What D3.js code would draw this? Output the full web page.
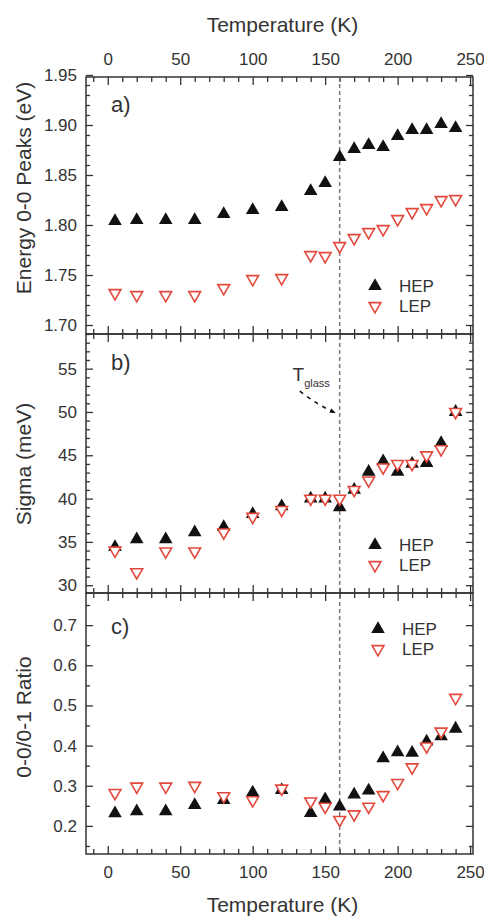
<!DOCTYPE html>
<html>
<head>
<meta charset="utf-8">
<script src="https://cdn.jsdelivr.net/npm/d3@7"></script>
<style>
  body { margin: 0; background: #fff; }
  text { font-family: "Liberation Sans", Arial, sans-serif; fill: #333; }
</style>
</head>
<body>
<div id="chart"></div>
<script>
// Temperatures (K)
var temps = [5, 20, 40, 60, 80, 100, 120, 140, 150, 160, 170, 180, 190, 200, 210, 220, 230, 240];

// a) Energy 0-0 peaks (eV)
var energyHEP = [1.804, 1.805, 1.805, 1.805, 1.811, 1.815, 1.818, 1.834, 1.842, 1.868, 1.876, 1.880, 1.878, 1.889, 1.895, 1.895, 1.901, 1.897];
var energyLEP = [1.732, 1.730, 1.730, 1.730, 1.737, 1.746, 1.747, 1.770, 1.769, 1.779, 1.787, 1.793, 1.796, 1.806, 1.813, 1.817, 1.825, 1.826];

// b) Sigma (meV)
var sigmaHEP = [34.4, 35.3, 35.3, 36.1, 36.7, 38.2, 39.1, 40.0, 40.0, 39.0, 41.0, 43.1, 44.3, 43.1, 44.0, 44.1, 46.4, 50.0];
var sigmaLEP = [34.0, 31.5, 33.9, 33.9, 36.1, 37.9, 38.7, 40.0, 40.0, 40.0, 41.0, 42.1, 43.6, 44.0, 44.0, 45.0, 45.7, 50.0];

// c) 0-0/0-1 ratio
var ratioHEP = [0.231, 0.236, 0.236, 0.252, 0.264, 0.283, 0.289, 0.232, 0.266, 0.248, 0.278, 0.288, 0.368, 0.383, 0.382, 0.410, 0.423, 0.442];
var ratioLEP = [0.282, 0.298, 0.298, 0.300, 0.274, 0.264, 0.293, 0.261, 0.248, 0.215, 0.229, 0.248, 0.277, 0.307, 0.346, 0.398, 0.435, 0.519];

var xTicks = [0, 50, 100, 150, 200, 250];
var tGlass = 160;

var width = 484, height = 916;
var left = 86, right = 473;
var panelTops = [77, 334, 593, 854];

var svg = d3.select("#chart").append("svg")
    .attr("width", width)
    .attr("height", height);

var x = d3.scaleLinear().domain([-15, 252]).range([left, right]);
var xMinor = d3.range(-10, 251, 10).filter(function (v) { return v % 50 !== 0; });

var red = "#e2483c";
var upTri = d3.symbol().type(d3.symbolTriangle).size(80);
var downTri = d3.symbol().type(d3.symbolTriangle).size(60);

var panels = [
    { name: "a)", title: "Energy 0-0 Peaks (eV)", titleY: 188, domain: [1.691, 1.948],
      major: d3.range(1.70, 1.951, 0.05), minorStep: 0.01, fmt: d3.format(".2f"),
      hep: energyHEP, lep: energyLEP, labelY: 112,
      legend: { x: 375, y1: 286, y2: 306, tx: 399 } },
    { name: "b)", title: "Sigma (meV)", titleY: 464, domain: [29.1, 59.0],
      major: d3.range(30, 56, 5), minorStep: 1, fmt: d3.format("d"),
      hep: sigmaHEP, lep: sigmaLEP, labelY: 370,
      legend: { x: 375, y1: 545, y2: 565, tx: 399 } },
    { name: "c)", title: "0-0/0-1 Ratio", titleY: 717, domain: [0.13, 0.78],
      major: d3.range(0.2, 0.71, 0.1), minorStep: 0.05, fmt: d3.format(".1f"),
      hep: ratioHEP, lep: ratioLEP, labelY: 634,
      legend: { x: 378, y1: 629, y2: 649, tx: 402 } }
];

function styleAxis(g) {
    g.select(".domain").remove();
    g.selectAll(".tick line").attr("stroke", "#333").attr("stroke-width", 1.3);
    g.selectAll(".tick text").style("font-size", "17px").attr("fill", "#3a3a3a")
        .style("font-family", "'Liberation Sans', Arial, sans-serif");
}

panels.forEach(function (p, i) {
    var top = panelTops[i], bottom = panelTops[i + 1];
    var y = d3.scaleLinear().domain(p.domain).range([bottom, top]);
    p.y = y;

    // minor tick values that are not on a major tick
    var minorVals = [];
    var start = Math.ceil(p.domain[0] / p.minorStep - 1e-6);
    for (var k = start; k * p.minorStep <= p.domain[1] + 1e-9; k++) {
        var v = +(k * p.minorStep).toFixed(4);
        var isMajor = p.major.some(function (m) { return Math.abs(m - v) < 1e-6; });
        if (!isMajor) minorVals.push(v);
    }

    // y axes left and right (ticks inward)
    svg.append("g").attr("transform", "translate(" + left + ",0)")
        .call(d3.axisLeft(y).tickValues(p.major).tickFormat(p.fmt).tickSize(-7).tickPadding(9))
        .call(styleAxis);
    svg.append("g").attr("transform", "translate(" + left + ",0)")
        .call(d3.axisLeft(y).tickValues(minorVals).tickFormat("").tickSize(-4))
        .call(styleAxis);
    svg.append("g").attr("transform", "translate(" + right + ",0)")
        .call(d3.axisRight(y).tickValues(p.major).tickFormat("").tickSize(-7))
        .call(styleAxis);
    svg.append("g").attr("transform", "translate(" + right + ",0)")
        .call(d3.axisRight(y).tickValues(minorVals).tickFormat("").tickSize(-4))
        .call(styleAxis);

    // x axes top and bottom (ticks inward)
    svg.append("g").attr("transform", "translate(0," + top + ")")
        .call(d3.axisTop(x).tickValues(xTicks).tickFormat(i === 0 ? d3.format("d") : "").tickSize(-8).tickPadding(12))
        .call(styleAxis);
    svg.append("g").attr("transform", "translate(0," + top + ")")
        .call(d3.axisTop(x).tickValues(xMinor).tickFormat("").tickSize(-5))
        .call(styleAxis);
    svg.append("g").attr("transform", "translate(0," + bottom + ")")
        .call(d3.axisBottom(x).tickValues(xTicks).tickFormat(i === 2 ? d3.format("d") : "").tickSize(-8).tickPadding(12))
        .call(styleAxis);
    svg.append("g").attr("transform", "translate(0," + bottom + ")")
        .call(d3.axisBottom(x).tickValues(xMinor).tickFormat("").tickSize(-5))
        .call(styleAxis);

    // frame
    svg.append("rect")
        .attr("x", left).attr("y", top)
        .attr("width", right - left).attr("height", bottom - top)
        .attr("fill", "none").attr("stroke", "#333").attr("stroke-width", 1.5);

    // y title
    svg.append("text")
        .attr("transform", "translate(31," + p.titleY + ") rotate(-90)")
        .attr("text-anchor", "middle")
        .style("font-size", "21px")
        .text(p.title);

    // panel label
    svg.append("text")
        .attr("x", 111).attr("y", p.labelY)
        .style("font-size", "22px")
        .text(p.name);
});

// T_glass dashed line
svg.append("line")
    .attr("x1", x(tGlass)).attr("x2", x(tGlass))
    .attr("y1", panelTops[0]).attr("y2", panelTops[3])
    .attr("stroke", "#777").attr("stroke-width", 1.5)
    .attr("stroke-dasharray", "4,3");

// markers
panels.forEach(function (p) {
    var y = p.y;
    svg.append("g").selectAll("path")
        .data(p.hep)
        .join("path")
        .attr("d", upTri)
        .attr("transform", function (d, j) { return "translate(" + x(temps[j]) + "," + y(d) + ")"; })
        .attr("fill", "#111");
    svg.append("g").selectAll("path")
        .data(p.lep)
        .join("path")
        .attr("d", downTri)
        .attr("transform", function (d, j) { return "translate(" + x(temps[j]) + "," + y(d) + ") rotate(180)"; })
        .attr("fill", "#fff").attr("stroke", red).attr("stroke-width", 1.6);

    // legend
    var lg = p.legend;
    svg.append("path").attr("d", upTri)
        .attr("transform", "translate(" + lg.x + "," + lg.y1 + ")")
        .attr("fill", "#111");
    svg.append("path").attr("d", downTri)
        .attr("transform", "translate(" + lg.x + "," + lg.y2 + ") rotate(180)")
        .attr("fill", "#fff").attr("stroke", red).attr("stroke-width", 1.6);
    svg.append("text").attr("x", lg.tx).attr("y", lg.y1 + 6).style("font-size", "17px").text("HEP");
    svg.append("text").attr("x", lg.tx).attr("y", lg.y2 + 6).style("font-size", "17px").text("LEP");
});

// x titles
svg.append("text").attr("x", (left + right) / 2 + 3).attr("y", 32)
    .attr("text-anchor", "middle").style("font-size", "21px").text("Temperature (K)");
svg.append("text").attr("x", (left + right) / 2 + 3).attr("y", 912)
    .attr("text-anchor", "middle").style("font-size", "21px").text("Temperature (K)");

// T_glass annotation in panel b
var yb = panels[1].y;
var tLabel = svg.append("text")
    .attr("x", x(127.5)).attr("y", yb(53.6))
    .style("font-size", "19px");
tLabel.append("tspan").text("T");
tLabel.append("tspan").attr("dy", 6).style("font-size", "11px").text("glass");

svg.append("defs").append("marker")
    .attr("id", "arrow")
    .attr("viewBox", "0 0 10 10")
    .attr("refX", 9).attr("refY", 5)
    .attr("markerWidth", 10).attr("markerHeight", 6)
    .attr("markerUnits", "userSpaceOnUse")
    .attr("orient", "auto")
    .append("path").attr("d", "M0,1 L10,5 L0,9 Z").attr("fill", "#111");

var a0 = [x(132.5), yb(52.4)], a1 = [x(157), yb(49.9)];
var arrowPath = d3.path();
arrowPath.moveTo(a0[0], a0[1]);
arrowPath.quadraticCurveTo((a0[0] + a1[0]) / 2, (a0[1] + a1[1]) / 2 + 3, a1[0], a1[1]);
svg.append("path")
    .attr("d", arrowPath.toString())
    .attr("fill", "none").attr("stroke", "#111").attr("stroke-width", 1.6)
    .attr("stroke-dasharray", "4,5")
    .attr("marker-end", "url(#arrow)");
</script>
</body>
</html>
